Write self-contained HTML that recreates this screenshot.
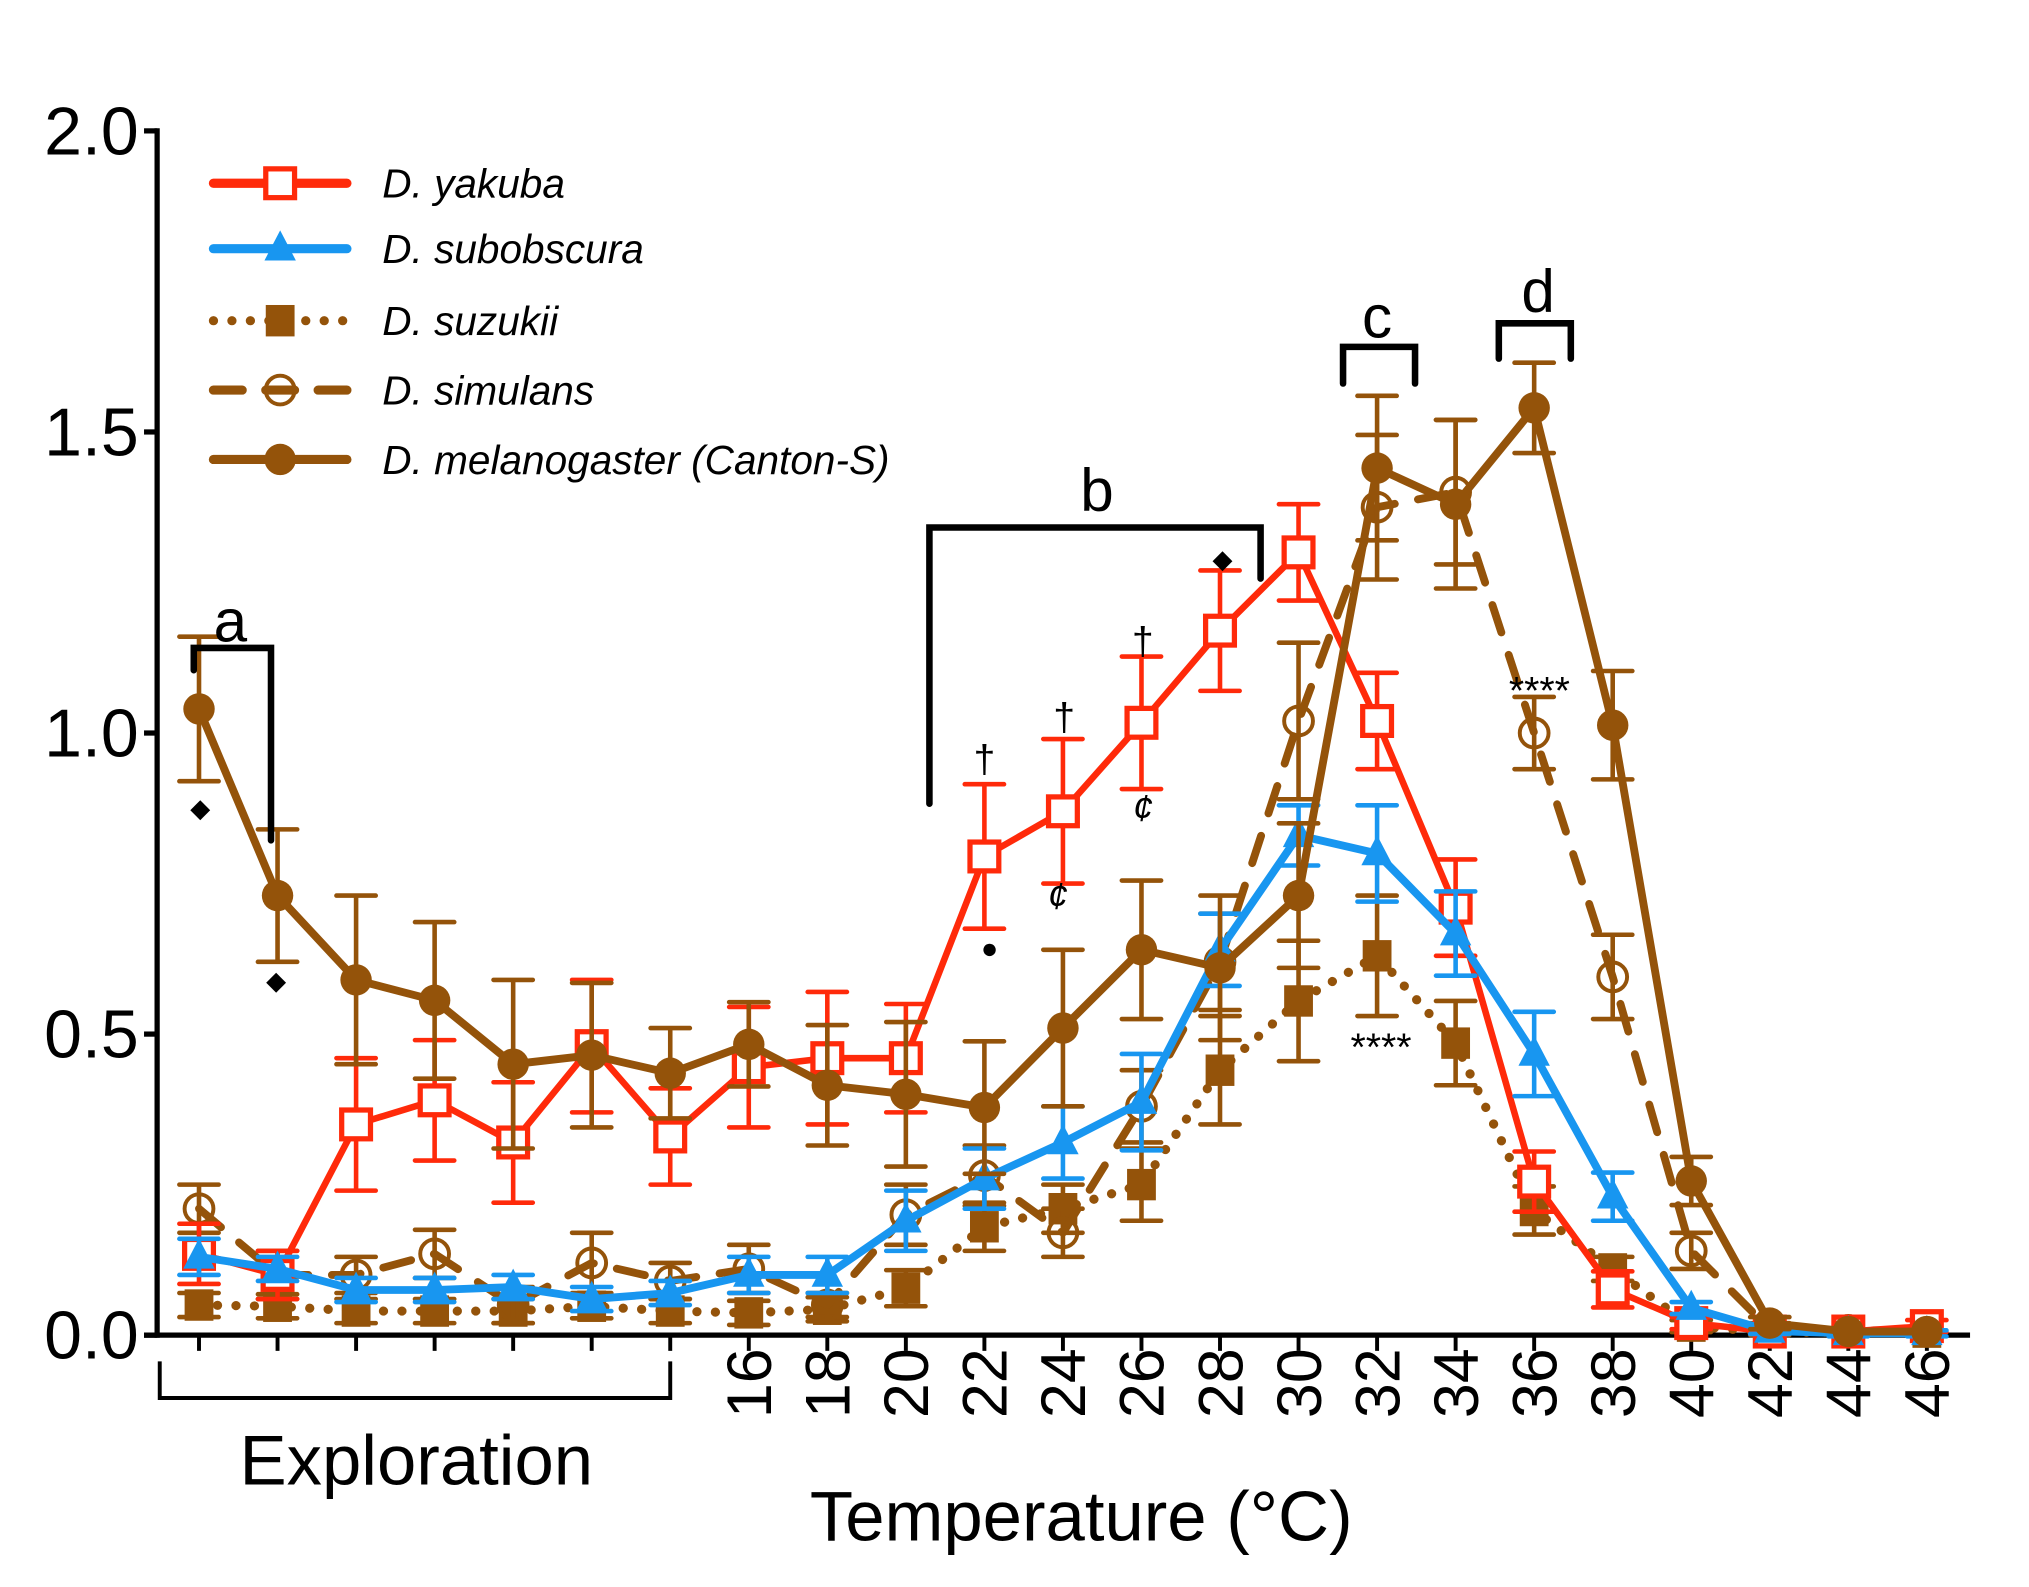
<!DOCTYPE html>
<html><head><meta charset="utf-8"><style>
html,body{margin:0;padding:0;background:#fff}
svg{display:block}
text{font-family:"Liberation Sans",sans-serif}
</style></head><body>
<svg id="chart" width="2029" height="1587" viewBox="0 0 1550 1212.4" xmlns="http://www.w3.org/2000/svg">
<g id="axes"></g>
<g id="series"></g>
<g id="annot"></g>
<g id="legend"></g>
</svg>
<script>
const categories=["","","","","","","","16","18","20","22","24","26","28","30","32","34","36","38","40","42","44","46"];
const yTicks=[0,0.5,1.0,1.5,2.0];
const yTickLabels=["0.0","0.5","1.0","1.5","2.0"];
const yakubaVals=[0.135,0.1,0.35,0.39,0.32,0.48,0.33,0.445,0.46,0.46,0.795,0.87,1.017,1.17,1.3,1.02,0.71,0.255,0.076,0.02,0.006,0.006,0.015];
const yakubaErr=[0.05,0.04,0.11,0.1,0.1,0.11,0.08,0.1,0.11,0.09,0.12,0.12,0.11,0.1,0.08,0.08,0.08,0.05,0.03,0.01,0,0,0.01];
const subobVals=[0.13,0.11,0.075,0.075,0.08,0.06,0.07,0.1,0.1,0.19,0.26,0.32,0.387,0.64,0.83,0.8,0.667,0.467,0.23,0.045,0.007,0.003,0.003];
const subobErr=[0.03,0.02,0.02,0.02,0.02,0.02,0.02,0.03,0.03,0.05,0.05,0.06,0.08,0.06,0.05,0.08,0.07,0.07,0.04,0.01,0.005,0.005,0.005];
const suzukiiVals=[0.05,0.048,0.04,0.04,0.04,0.048,0.04,0.037,0.043,0.078,0.18,0.21,0.25,0.44,0.555,0.63,0.485,0.207,0.11,0.015,0.005,0.005,0.005];
const suzukiiErr=[0.02,0.02,0.02,0.02,0.02,0.02,0.02,0.02,0.02,0.03,0.04,0.04,0.06,0.09,0.1,0.1,0.07,0.04,0.02,0.01,0,0,0];
const simulansVals=[0.21,0.1,0.1,0.135,0.05,0.12,0.09,0.11,0.05,0.2,0.265,0.17,0.38,0.62,1.02,1.375,1.4,1.0,0.595,0.14,0.01,0.008,0.008];
const simulansErr=[0.04,0.04,0.03,0.04,0.03,0.05,0.03,0.04,0.02,0.05,0.05,0.04,0.06,0.08,0.13,0.12,0.12,0.06,0.07,0.03,0.01,0,0];
const melanoVals=[1.04,0.73,0.59,0.556,0.45,0.465,0.435,0.483,0.415,0.40,0.378,0.51,0.64,0.61,0.73,1.44,1.38,1.54,1.013,0.256,0.02,0.006,0.006];
const melanoErr=[0.12,0.11,0.14,0.13,0.14,0.12,0.075,0.07,0.1,0.12,0.11,0.13,0.115,0.12,0.12,0.12,0.14,0.075,0.09,0.04,0.01,0,0];

const NS="http://www.w3.org/2000/svg";
const RED="#ff2a0a",BLUE="#1896f0",BROWN="#94530a";
function X(i){return 152+60*i;}
function Y(v){return 1020-v*460;}
function el(tag,attrs,parent){const e=document.createElementNS(NS,tag);for(const k in attrs)e.setAttribute(k,attrs[k]);parent.appendChild(e);return e;}
const axes=document.getElementById('axes'),series=document.getElementById('series'),annot=document.getElementById('annot'),legend=document.getElementById('legend');

let a=el('line',{x1:120,y1:98,x2:120,y2:1022,stroke:'#000','stroke-width':4},axes);


a=el('line',{x1:110,y1:1020,x2:1505,y2:1020,stroke:'#000','stroke-width':4},axes);


yTicks.forEach((v,k)=>{
  const t=el('line',{x1:110,y1:Y(v),x2:120,y2:Y(v),stroke:'#000','stroke-width':4},axes);
  
  
  const tx=el('text',{x:106,y:Y(v)+18,'text-anchor':'end','font-size':52},axes);
  tx.textContent=yTickLabels[k];
  
  
});
categories.forEach((c,i)=>{
  const t=el('line',{x1:X(i),y1:1020,x2:X(i),y2:1032,stroke:'#000','stroke-width':3},axes);
  
  
  if(c){
    const tx=el('text',{x:0,y:0,'text-anchor':'end','font-size':48,transform:`translate(${X(i)+17},1030) rotate(-90)`},axes);
    tx.textContent=c;
    
    
  }
});
a=el('polyline',{points:'122,1040 122,1068 512,1068 512,1040',fill:'none',stroke:'#000','stroke-width':3},axes);


a=el('text',{x:318,y:1134,'text-anchor':'middle','font-size':54},axes);a.textContent='Exploration';


a=el('text',{x:826,y:1177,'text-anchor':'middle','font-size':54},axes);a.textContent='Temperature (°C)';



function marker(type,color,x,y,g){
  let m;
  if(type==='sq') m=el('rect',{x:x-11,y:y-11,width:22,height:22,fill:'#fff',stroke:color,'stroke-width':4},g);
  else if(type==='tri') m=el('polygon',{points:`${x},${y-14} ${x-12},${y+9} ${x+12},${y+9}`,fill:color},g);
  else if(type==='fsq') m=el('rect',{x:x-11,y:y-12,width:22,height:24,fill:color},g);
  else if(type==='oc') m=el('circle',{cx:x,cy:y,r:11,fill:'none',stroke:color,'stroke-width':3},g);
  else m=el('circle',{cx:x,cy:y,r:12,fill:color},g);
  return m;
}
function drawSeries(name,vals,errs,color,dash,type,w){
  const g=el('g',{},series);
  
  
  vals.forEach((v,i)=>{
    const e=errs[i]; if(e<=0) return;
    const eb=el('path',{d:`M${X(i)},${Y(v+e)}V${Y(v-e)}M${X(i)-15},${Y(v+e)}h30M${X(i)-15},${Y(v-e)}h30`,stroke:color,'stroke-width':3.5,fill:'none','stroke-linecap':'round'},g);
    
    
  });
  const ln=el('polyline',{points:vals.map((v,i)=>X(i)+','+Y(v)).join(' '),fill:'none',stroke:color,'stroke-width':w,'stroke-dasharray':dash,'stroke-linecap':'round','stroke-linejoin':'round'},g);
  
  
  vals.forEach((v,i)=>{
    const m=marker(type,color,X(i),Y(v),g);
    
    
  });
}
drawSeries('suzukii',suzukiiVals,suzukiiErr,BROWN,'0.1 14','fsq',7);
drawSeries('simulans',simulansVals,simulansErr,BROWN,'22 18','oc',6);
drawSeries('yakuba',yakubaVals,yakubaErr,RED,'none','sq',5);
drawSeries('subobscura',subobVals,subobErr,BLUE,'none','tri',6);
drawSeries('melanogaster',melanoVals,melanoErr,BROWN,'none','fc',6);

function bracket(name,pts,lbl,lx,ly){
  const p=el('polyline',{points:pts,fill:'none',stroke:'#000','stroke-width':5,'stroke-linecap':'round'},annot);
  
  
  const t=el('text',{x:lx,y:ly,'text-anchor':'middle','font-size':46},annot);t.textContent=lbl;
  
  
}
bracket('a','148,512 148,495 207,495 207,642','a',176,490);
bracket('b','710,614 710,403 963,403 963,442','b',838,390);
bracket('c','1026,293 1026,265 1081,265 1081,293','c',1052,258);
bracket('d','1145,274 1145,247 1200,247 1200,274','d',1175,238);
function sym(txt,x,y,size,style,name){
  const t=el('text',{x:x,y:y,'text-anchor':'middle','font-size':size,'font-style':style||'normal'},annot);t.textContent=txt;
  
  
}
sym('◆',153,624,20,'','diamond-marker');
sym('◆',211,756,20,'','diamond-marker');
sym('◆',934,434,20,'','diamond-marker');
sym('†',752,590,30,'','dagger-marker');
sym('†',813,558,30,'','dagger-marker');
sym('†',873,500,30,'','dagger-marker');
sym('¢',808,694,28,'italic','cent-marker');
sym('¢',873,627,28,'italic','cent-marker');
sym('●',756,732,22,'','bullet-marker');
sym('****',1176,538,30,'','significance-stars');
sym('****',1055,810,30,'','significance-stars');

const legNames=['D. yakuba','D. subobscura','D. suzukii','D. simulans','D. melanogaster (Canton-S)'];
const legY=[140,190,245,298,351];
const legCol=[RED,BLUE,BROWN,BROWN,BROWN];
const legType=['sq','tri','fsq','oc','fc'];
const legDash=['none','none','0.1 14','22 18','none'];
legNames.forEach((n,k)=>{
  const g=el('g',{},legend);
  
  
  el('line',{x1:163,y1:legY[k],x2:265,y2:legY[k],stroke:legCol[k],'stroke-width':7,'stroke-linecap':'round','stroke-dasharray':legDash[k]},g);
  marker(legType[k],legCol[k],214,legY[k],g);
  const t=el('text',{x:292,y:legY[k]+11,'font-size':31,'font-style':'italic'},g);t.textContent=n;
});
</script>
</body></html>
